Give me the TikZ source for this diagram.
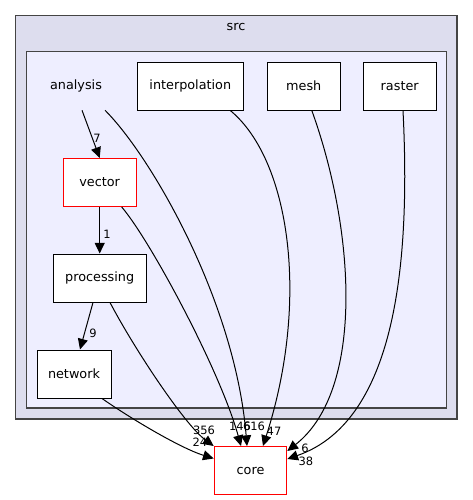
\documentclass[tikz,border=0pt]{standalone}
\usepackage{fontspec}
\setmainfont{DejaVu Sans}
\usetikzlibrary{arrows.meta}
\usetikzlibrary{calc}
\definecolor{srcfill}{HTML}{DDDDEE}
\definecolor{subfill}{HTML}{EEEEFF}
\definecolor{clusterline}{HTML}{444444}

\begin{document}
\begin{tikzpicture}[x=0.75pt,y=-0.75pt,
		dir/.style = {draw, fill=white, line width=0.75pt, minimum height=36pt, font=\fontsize{9.6}{11}\selectfont},
		hot/.style = {dir, draw=red},
		num/.style = {inner sep=0pt, font=\fontsize{8.6}{10}\selectfont},
		dep/.style = {-{Triangle[length=8pt,width=7.5pt]}, line width=0.75pt}]
				\useasboundingbox (0,0) rectangle (473,500);
				\draw [draw=clusterline, fill=srcfill, line width=1pt] (15.5,15.5) rectangle (457,419);
				\draw [draw=clusterline, fill=subfill, line width=1pt] (26.5,51.5) rectangle (446.5,408);
				\node [font=\fontsize{9.6}{11}\selectfont] (src) at (236,27) {src};
				\node [font=\fontsize{9.6}{11}\selectfont, minimum height=36pt] (analysis) at (76,86) {analysis};
				\begin{scope}[every node/.style={dir}]
					\node [minimum width=79.5pt] (interpolation) at (190.3,86) {interpolation};
					\node [minimum width=54.5pt] (mesh) at (303.8,86) {mesh};
					\node [minimum width=54.5pt] (raster) at (399.7,86) {raster};
					\node [hot, minimum width=54.5pt] (vector) at (99.7,182.5) {vector};
					\node [minimum width=69.5pt] (processing) at (99.7,278) {processing};
					\node [minimum width=55.5pt] (network) at (74,374) {network};
					\node [hot, minimum width=54.5pt] (core) at (250.5,470.5) {core};
				\end{scope}
				\draw [dep] ($(analysis.south)+(6,0)$) -- (vector.north) node [num] at (97,138) {7};
				\draw [dep] (vector.south) -- (processing.north) node [num] at (107,234) {1};
				\draw [dep] ($(processing.south)+(-6.7,0)$) -- ($(network.north)+(6,0)$) node [num] at (93,333) {9};
				\draw [dep] ($(network.south)+(28,0)$) .. controls (130,418) and (180,448) .. ($(core.west)+(0,-12)$) node [num] at (200,442) {24};
				\draw [dep] ($(processing.south)+(10.3,0)$) .. controls (135,350) and (185,425) .. (core.north west) node [num] at (204,430) {356};
				\draw [dep] ($(vector.south)+(22,0)$) .. controls (150,240) and (220,370) .. ($(core.north)+(-9.5,0)$) node [num] at (240,426) {146};
				\draw [dep] ($(analysis.south)+(29,0)$) .. controls (150,155) and (235,300) .. ($(core.north)+(-3.5,0)$) node [num] at (254,426) {616};
				\draw [dep] ($(interpolation.south)+(40,0)$) .. controls (290,160) and (310,300) .. ($(core.north)+(12.5,0)$) node [num] at (274,431) {47};
				\draw [dep] ($(mesh.south)+(8,0)$) .. controls (355,230) and (365,390) .. ($(core.north east)+(0,5)$) node [num] at (305,448) {6};
				\draw [dep] ($(raster.south)+(3.3,0)$) .. controls (410,250) and (400,420) .. ($(core.north east)+(0,13)$) node [num] at (306,461) {38};
			\end{tikzpicture}
\end{document}
